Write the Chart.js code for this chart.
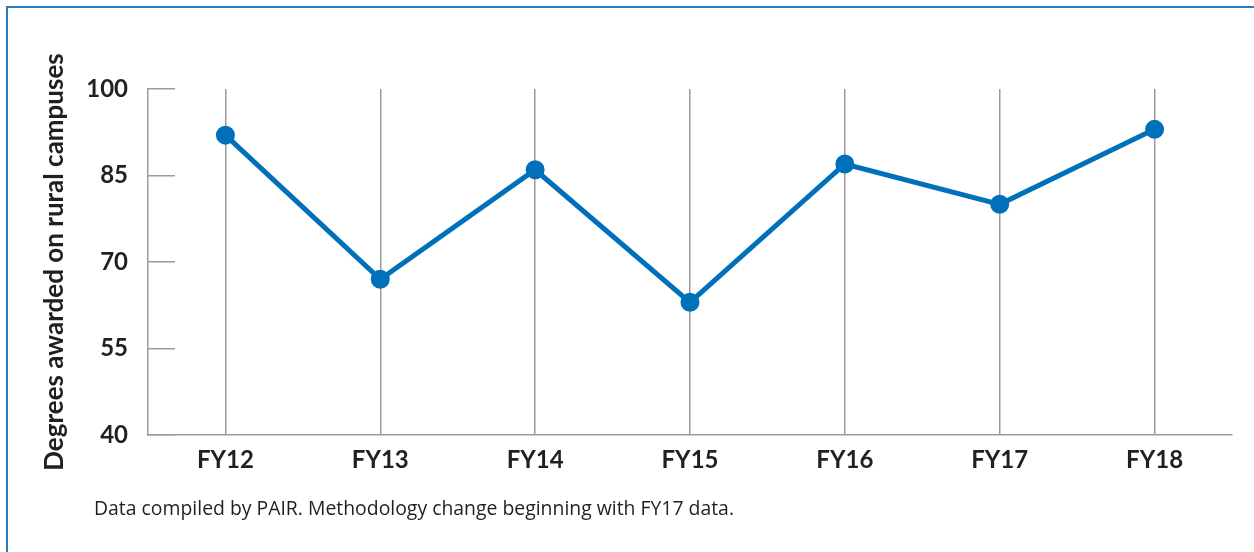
<!DOCTYPE html>
<html>
<head>
<meta charset="utf-8">
<script src="https://cdn.jsdelivr.net/npm/chart.js@4/dist/chart.umd.min.js"></script>
<style>
  html, body { margin: 0; padding: 0; background: #fff; }
  #quadro { position: relative; width: 1254px; height: 552px; }
  #moldura { position: absolute; left: 6px; top: 6px; right: 0; bottom: 0;
             border-top: 2px solid #2a7cc0; border-left: 2px solid #2a7cc0; }
  #nota { position: absolute; left: 94px; top: 494px; font-family: "Open Sans", sans-serif;
          font-size: 19.4px; color: #231f20; white-space: nowrap; }
  canvas { position: absolute; left: 0; top: 0; }
</style>
</head>
<body>
<div id="quadro">
  <div id="moldura"></div>
  <canvas id="graficoGraus" width="1254" height="552"></canvas>
  <div id="nota">Data compiled by PAIR. Methodology change beginning with FY17 data.</div>
</div>
<script>
const anos = ['FY12', 'FY13', 'FY14', 'FY15', 'FY16', 'FY17', 'FY18'];
const graus = [92, 67, 86, 63, 87, 80, 93];
const marcasY = [40, 55, 70, 85, 100];

const corTexto = '#231f20';
const corLinha = '#0070ba';
const corGrade = '#9b9b9b';

const ctx = document.getElementById('graficoGraus');

new Chart(ctx, {
    type: 'line',
    data: {
        labels: anos,
        datasets: [{
            data: graus,
            borderColor: corLinha,
            backgroundColor: corLinha,
            borderWidth: 5,
            pointRadius: 7,
            pointHoverRadius: 7,
            tension: 0
        }]
    },
    options: {
        responsive: false,
        animation: false,
        layout: { padding: { left: 0, top: 89, right: 22, bottom: 57 } },
        plugins: { legend: { display: false }, tooltip: { enabled: false } },
        scales: {
            x: {
                offset: true,
                grid: { offset: false, color: corGrade, lineWidth: 1.5, drawTicks: false },
                border: { color: corGrade, width: 1.5 },
                ticks: {
                    padding: 11,
                    color: corTexto,
                    font: { family: 'Lato', weight: 'bold', size: 24 }
                },
                afterFit: function (escala) { escala.height = 60; }
            },
            y: {
                min: 40,
                max: 100,
                afterBuildTicks: function (escala) {
                    escala.ticks = marcasY.map(v => ({ value: v }));
                },
                grid: { drawOnChartArea: false, color: corGrade, lineWidth: 1.5, tickLength: -27 },
                border: { color: corGrade, width: 1.5 },
                ticks: {
                    padding: 47,
                    color: corTexto,
                    font: { family: 'Lato', weight: 'bold', size: 24 }
                },
                title: {
                    display: true,
                    text: 'Degrees awarded on rural campuses',
                    color: corTexto,
                    font: { family: 'Lato', weight: 'bold', size: 26 },
                    padding: { top: 39, bottom: 0 }
                },
                afterFit: function (escala) { escala.width = 148; }
            }
        }
    }
});
</script>
</body>
</html>
